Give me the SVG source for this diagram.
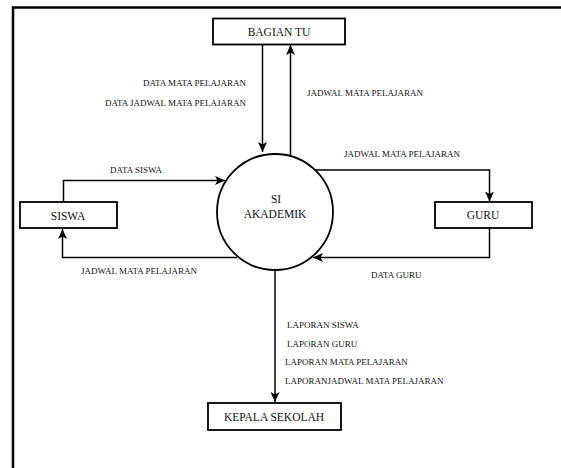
<svg xmlns="http://www.w3.org/2000/svg" width="561" height="468" viewBox="0 0 561 468">
<style>
.box{fill:#fff;stroke:#000;stroke-width:1.8}
.lbl{font-size:11.5px;fill:#111;text-anchor:middle}
.flow{font-size:9px;fill:#111}
.conn{fill:none;stroke:#000;stroke-width:1.5}
text{font-family:'Liberation Serif','Times New Roman','DejaVu Serif',serif}
</style>
<defs>
<marker id="arr" viewBox="0 0 10 10" refX="10" refY="5" markerWidth="10" markerHeight="10" markerUnits="userSpaceOnUse" orient="auto">
<path d="M0,0.5 L10,5 L0,9.5 L2.5,5 z" fill="#000"/>
</marker>
</defs>
<rect width="561" height="468" fill="#fff"/>
<g id="frame" fill="none" stroke="#000" stroke-width="2.5">
<path d="M13,468 V7.5 H561"/>
</g>
<g id="connectors" font-family="Liberation Serif, serif">
<path class="conn" d="M262.5,44 V152" marker-end="url(#arr)"/>
<path class="conn" d="M290.5,156 V45" marker-end="url(#arr)"/>
<path class="conn" d="M63.5,202 V180.5 H225" marker-end="url(#arr)"/>
<path class="conn" d="M237,257.5 H62.5 V229" marker-end="url(#arr)"/>
<path class="conn" d="M315,170 H489.5 V201.5" marker-end="url(#arr)"/>
<path class="conn" d="M489.5,228 V257.5 H313" marker-end="url(#arr)"/>
<path class="conn" d="M275,270 V402" marker-end="url(#arr)"/>
<text class="flow" x="246" y="86" text-anchor="end">DATA MATA PELAJARAN</text>
<text class="flow" x="246" y="106" text-anchor="end">DATA JADWAL MATA PELAJARAN</text>
<text class="flow" x="307" y="96">JADWAL MATA PELAJARAN</text>
<text class="flow" x="344" y="157">JADWAL MATA PELAJARAN</text>
<text class="flow" x="110" y="173">DATA SISWA</text>
<text class="flow" x="81" y="274">JADWAL MATA PELAJARAN</text>
<text class="flow" x="371" y="278">DATA GURU</text>
<text class="flow" x="287" y="328">LAPORAN SISWA</text>
<text class="flow" x="287" y="347">LAPORAN GURU</text>
<text class="flow" x="285" y="365">LAPORAN MATA PELAJARAN</text>
<text class="flow" x="285" y="384">LAPORANJADWAL MATA PELAJARAN</text>
</g>
<g id="bagian-tu">
<rect class="box" x="213" y="18.5" width="132" height="26"/>
<text class="lbl" x="279" y="36">BAGIAN TU</text>
</g>
<g id="si-akademik">
<circle cx="275" cy="212" r="58" fill="#fff" stroke="#000" stroke-width="1.8"/>
<text class="lbl" x="276" y="203">SI</text>
<text class="lbl" x="275" y="218">AKADEMIK</text>
</g>
<g id="siswa">
<rect class="box" x="20" y="202" width="97" height="26"/>
<text class="lbl" x="68" y="220">SISWA</text>
</g>
<g id="guru">
<rect class="box" x="435" y="202" width="97" height="26"/>
<text class="lbl" x="483" y="219">GURU</text>
</g>
<g id="kepala-sekolah">
<rect class="box" x="208" y="403" width="133" height="27"/>
<text class="lbl" x="274" y="421">KEPALA SEKOLAH</text>
</g>
</svg>
